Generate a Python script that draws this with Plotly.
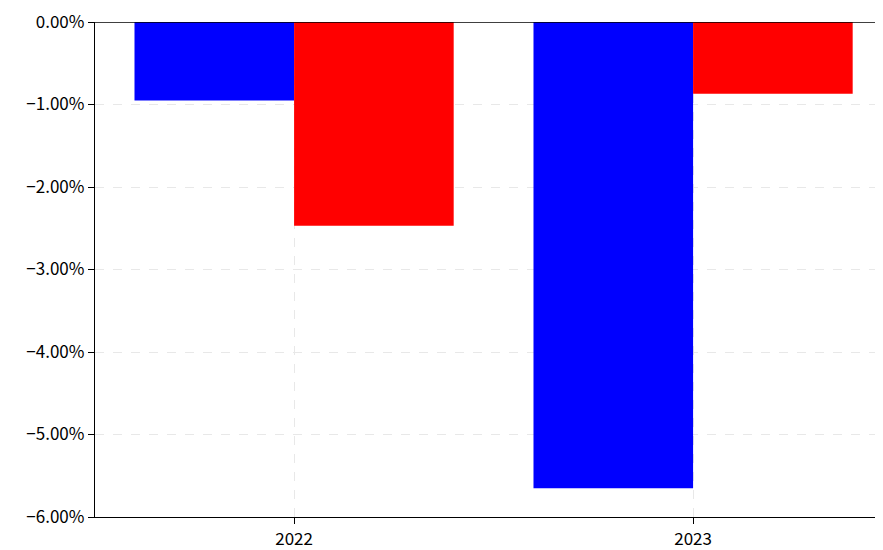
import plotly.graph_objects as go

categories = ["2022", "2023"]
blue_values = [-0.0095, -0.0565]
red_values = [-0.0247, -0.0087]
y_ticks = [0, -0.01, -0.02, -0.03, -0.04, -0.05, -0.06]
y_tick_labels = ["0.00%", "\u22121.00%", "\u22122.00%", "\u22123.00%", "\u22124.00%", "\u22125.00%", "\u22126.00%"]

fig = go.Figure()
fig.add_trace(go.Bar(x=categories, y=blue_values, marker=dict(color="#0000FF", line=dict(width=0)), showlegend=False))
fig.add_trace(go.Bar(x=categories, y=red_values, marker=dict(color="#FF0000", line=dict(width=0)), showlegend=False))

fig.update_layout(
    width=875, height=542,
    margin=dict(l=87, r=0, t=12, b=33),
    barmode="group", bargap=0.2, bargroupgap=0,
    plot_bgcolor="white", paper_bgcolor="white",
    font=dict(family="Noto Sans CJK SC, DejaVu Sans, sans-serif", size=17, color="black"),
)
fig.update_xaxes(
    type="category", range=[-0.499, 1.476],
    showline=True, linecolor="black", linewidth=1.3,
    ticks="outside", ticklen=6, tickwidth=1.3, tickcolor="black",
    showgrid=True, gridcolor="#e8e8e8", griddash="dash", gridwidth=1,
    zeroline=False, ticklabeloverflow="allow",
)
fig.update_yaxes(
    range=[-0.06, 0], tickvals=y_ticks, ticktext=y_tick_labels,
    showline=True, linecolor="black", linewidth=1.3,
    ticks="outside", ticklen=6, tickwidth=1.3, tickcolor="black",
    showgrid=True, gridcolor="#e8e8e8", griddash="dash", gridwidth=1,
    zeroline=False, ticklabeloverflow="allow",
)
fig.add_shape(type="line", xref="paper", yref="y", x0=0, x1=1, y0=0, y1=0,
              line=dict(color="black", width=1.3), layer="above")

fig.write_html("out.html")
